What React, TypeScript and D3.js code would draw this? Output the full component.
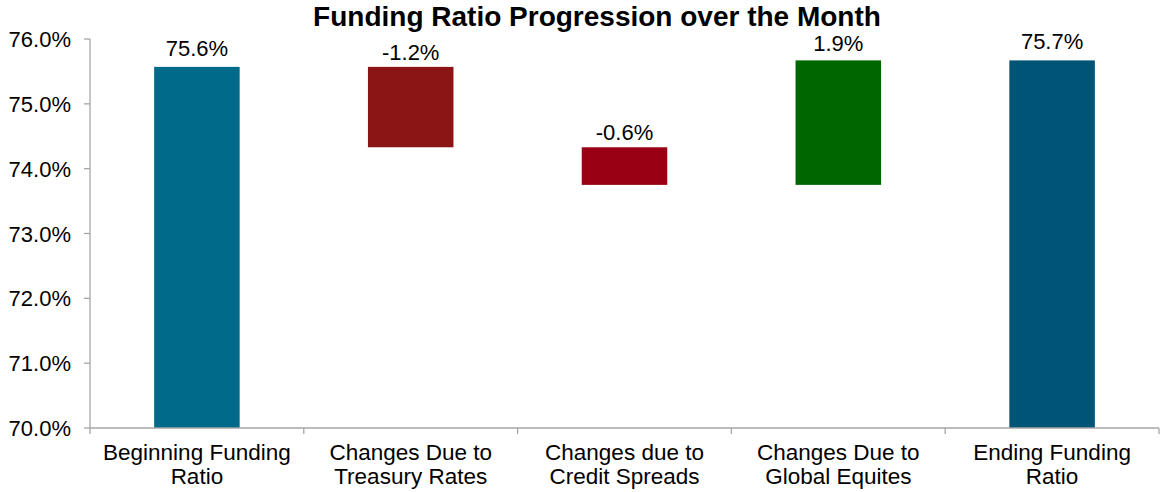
import React from "react";
import * as d3 from "d3";

const categories = [
  ["Beginning Funding", "Ratio"],
  ["Changes Due to", "Treasury Rates"],
  ["Changes due to", "Credit Spreads"],
  ["Changes Due to", "Global Equites"],
  ["Ending Funding", "Ratio"],
];
const beginValue = 75.57;
const changes = [-1.24, -0.58, 1.92];
const endValue = 75.67;
const valueLabels = ["75.6%", "-1.2%", "-0.6%", "1.9%", "75.7%"];
const barColors = ["#006A8A", "#8B1414", "#9A0014", "#006600", "#005577"];
const yTicks = [70, 71, 72, 73, 74, 75, 76];

const W = 1160;
const H = 492;
const M = { left: 90, right: 1, top: 39, bottom: 64 };

export default function App() {
  const x = d3
    .scaleBand<number>()
    .domain(d3.range(categories.length))
    .range([M.left, W - M.right])
    .paddingInner(0.6)
    .paddingOuter(0.3);
  const y = d3.scaleLinear().domain([70, 76]).range([H - M.bottom, M.top]);

  const segs: { lo: number; hi: number; top: number; kind: string }[] = [];
  segs.push({ lo: 70, hi: beginValue, top: beginValue, kind: "total" });
  let cum = beginValue;
  changes.forEach((c) => {
    const next = cum + c;
    segs.push({ lo: Math.min(cum, next), hi: Math.max(cum, next), top: Math.max(cum, next), kind: c < 0 ? "neg" : "pos" });
    cum = next;
  });
  segs.push({ lo: 70, hi: endValue, top: endValue, kind: "total" });

  const step = x.step();
  const boundaries = d3.range(categories.length + 1).map((i) => M.left + i * step);
  const font = "'Liberation Sans', Arial, sans-serif";
  const axisColor = "#A6A6A6";
  const labelOffset = (k: string) => (k === "neg" ? 7 : k === "pos" ? 9 : 11);

  return (
    <svg width={W} height={H} style={{ position: "absolute", left: 0, top: 0, background: "#fff" }} fontFamily={font}>
      <text x={597} y={26} textAnchor="middle" fontWeight="bold" fontSize={28} fill="#000">
        Funding Ratio Progression over the Month
      </text>
      {segs.map((s, i) => (
        <rect key={i} x={x(i)} width={x.bandwidth()} y={y(s.hi)} height={y(s.lo) - y(s.hi)} fill={barColors[i]} />
      ))}
      <line x1={M.left} x2={M.left} y1={y(76)} y2={y(70)} stroke={axisColor} strokeWidth={1.3} />
      {yTicks.map((t) => (
        <g key={t}>
          <line x1={M.left - 6} x2={M.left} y1={y(t)} y2={y(t)} stroke={axisColor} strokeWidth={1.3} />
          <text x={71} y={y(t) + 8} textAnchor="end" fontSize={22} fill="#000">
            {t.toFixed(1) + "%"}
          </text>
        </g>
      ))}
      <line x1={M.left} x2={W - M.right} y1={y(70)} y2={y(70)} stroke={axisColor} strokeWidth={1.3} />
      {boundaries.map((b, i) => (
        <line key={i} x1={b} x2={b} y1={y(70)} y2={y(70) + 6} stroke={axisColor} strokeWidth={1.3} />
      ))}
      {categories.map((c, i) => (
        <text key={i} textAnchor="middle" fontSize={22.5} fill="#000">
          {c.map((ln, j) => (
            <tspan key={j} x={(x(i) as number) + x.bandwidth() / 2} y={460 + j * 24}>
              {ln}
            </tspan>
          ))}
        </text>
      ))}
      {segs.map((s, i) => (
        <text
          key={i}
          x={(x(i) as number) + x.bandwidth() / 2}
          y={y(s.top) - labelOffset(s.kind)}
          textAnchor="middle"
          fontSize={22}
          fill="#000"
        >
          {valueLabels[i]}
        </text>
      ))}
    </svg>
  );
}
